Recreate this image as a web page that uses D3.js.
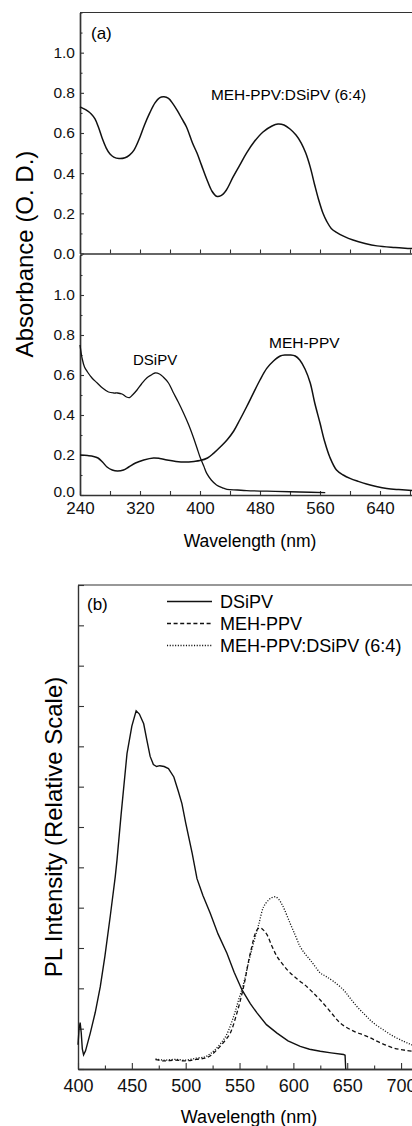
<!DOCTYPE html>
<html><head><meta charset="utf-8">
<script src="https://cdn.jsdelivr.net/npm/d3@7"></script>
<style>
html,body{margin:0;padding:0;background:#fff;}
svg{display:block;font-family:"Liberation Sans",Arial,sans-serif;}
</style></head>
<body>
<script>
// ---------- Data: panel (a) absorbance ----------
const absTicksX = [240,280,320,360,400,440,480,520,560,600,640,680,720];
const absLabelsX = [240,320,400,480,560,640];
const absTicksY = [0,0.1,0.2,0.3,0.4,0.5,0.6,0.7,0.8,0.9,1.0,1.1,1.2];
const absLabelsY = [0,0.2,0.4,0.6,0.8,1.0];

const blendAbsWl  = [240,248,255,260,265,270,275,280,285,292,300,306,312,320,326,333,340,346,352,358,364,370,376,382,390,396,402,409,416,422,428,435,444,453,462,472,484,496,504,512,520,528,535,541,547,553,558,564,569,575,582,592,604,620,636,660,680,700,720];
const blendAbsVal = [0.73,0.715,0.695,0.67,0.625,0.57,0.525,0.495,0.48,0.473,0.477,0.49,0.515,0.58,0.64,0.70,0.75,0.775,0.78,0.772,0.745,0.71,0.67,0.63,0.55,0.50,0.44,0.37,0.31,0.285,0.288,0.315,0.38,0.44,0.50,0.555,0.605,0.635,0.645,0.64,0.62,0.59,0.55,0.50,0.43,0.34,0.27,0.20,0.16,0.125,0.105,0.085,0.067,0.05,0.038,0.03,0.025,0.02,0.017];

const dsipvAbsWl  = [240,243,246,250,256,263,270,278,285,290,296,302,306,310,316,322,329,335,340,346,351,358,364,371,378,385,391,396,400,405,409,415,422,430,436,450,462,500,533,567];
const dsipvAbsVal = [0.75,0.68,0.64,0.615,0.585,0.56,0.535,0.515,0.51,0.51,0.505,0.49,0.487,0.50,0.525,0.555,0.585,0.60,0.61,0.605,0.59,0.56,0.515,0.465,0.41,0.35,0.29,0.235,0.19,0.145,0.108,0.075,0.05,0.036,0.028,0.025,0.022,0.018,0.015,0.012];

const mehAbsWl  = [240,250,258,264,270,276,283,290,298,305,314,325,338,346,356,368,380,392,400,410,418,427,436,445,453,462,471,480,489,498,507,514,520,527,533,540,547,553,560,566,573,582,591,600,611,622,635,649,665,683,700,720];
const mehAbsVal = [0.20,0.197,0.193,0.185,0.165,0.14,0.125,0.12,0.125,0.14,0.16,0.175,0.185,0.183,0.175,0.168,0.165,0.168,0.172,0.185,0.208,0.24,0.275,0.32,0.375,0.44,0.508,0.575,0.633,0.67,0.695,0.70,0.70,0.695,0.675,0.63,0.56,0.46,0.36,0.27,0.19,0.125,0.10,0.083,0.068,0.055,0.043,0.033,0.027,0.022,0.019,0.016];

// ---------- Data: panel (b) photoluminescence ----------
const plTicksX = [400,425,450,475,500,525,550,575,600,625,650,675,700];
const plLabelsX = [400,450,500,550,600,650,700];
const plTicksY = [0,1,2,3,4,5,6,7,8,9,10,11,12];

const dsipvPlWl  = [400,401,402,403,404,405.2,407,411.4,416,420.7,425,430,434.6,436.2,440,445.5,450,454,457,461,464,467,470,473,476,480,484,489,493,496.5,500,506,510.5,516,522.8,530,538.3,545,552.3,560,566.2,575,584.8,595,606.4,615,625,635,646.6,648,648.6];
const dsipvPlVal = [0.6,1.0,1.15,0.9,0.5,0.35,0.45,0.89,1.4,2.04,2.8,3.8,4.77,5.18,6.3,7.82,8.5,8.88,8.8,8.56,8.15,7.75,7.55,7.5,7.52,7.5,7.45,7.24,6.9,6.58,6.1,5.35,4.72,4.3,3.86,3.35,2.87,2.4,1.96,1.62,1.39,1.1,0.89,0.7,0.56,0.49,0.44,0.40,0.36,0.34,0.0];

const mehPlWl  = [472,480,490,500,510,518,523,528,532,537,541.4,547.6,553.8,560,566.2,569.3,572,575.5,580,584.8,590,597.1,605,612.6,618,625,635,643.5,655,668.3,680,693,705,720];
const mehPlVal = [0.23,0.2,0.22,0.2,0.24,0.27,0.33,0.45,0.56,0.72,0.89,1.39,2.04,2.87,3.45,3.5,3.45,3.33,3.05,2.79,2.6,2.38,2.2,2.04,1.9,1.71,1.4,1.14,0.95,0.81,0.66,0.52,0.46,0.42];

const blendPlWl  = [472,480,490,500,510,518,523,527,533,538,544.5,549,553.8,558,563,568,572.3,577,580,583.2,586,590,597,602,606.4,611,615.7,620,625,630,637.3,646.6,652,659,667,674.4,683,693,703,710.4,720];
const blendPlVal = [0.25,0.22,0.24,0.22,0.27,0.3,0.38,0.47,0.65,0.85,1.3,1.7,2.12,2.6,3.12,3.6,4.02,4.19,4.25,4.27,4.22,4.05,3.61,3.3,3.03,2.85,2.7,2.55,2.38,2.3,2.17,1.96,1.78,1.55,1.33,1.14,0.98,0.81,0.68,0.6,0.55];

const legendNames = ["DSiPV","MEH-PPV","MEH-PPV:DSiPV (6:4)"];
const legendDash = [null,"4,2.6","1.1,1.6"];

// ---------- Drawing ----------
const W = 412, H = 1126;
const svg = d3.select("body").append("svg").attr("width",W).attr("height",H);
svg.append("rect").attr("width",W).attr("height",H).attr("fill","#fff");

const ink = "#111", axisInk = "#333";
const zip = (a,b)=>a.map((x,i)=>[x,b[i]]);

const xA = d3.scaleLinear().domain([240,720]).range([80,440]);
const yTop = d3.scaleLinear().domain([0,1.2]).range([253.5,12.5]);
const yBot = d3.scaleLinear().domain([0,1.2]).range([495,255]);

function styleAxis(g, fs){
  g.select(".domain").attr("stroke",axisInk).attr("stroke-width",1.4);
  g.selectAll(".tick line").attr("stroke",axisInk).attr("stroke-width",1.1);
  g.selectAll("text").attr("font-size",fs).attr("fill","#111")
    .attr("font-family","'Liberation Sans',Arial,sans-serif");
}

svg.append("line").attr("x1",80).attr("x2",W).attr("y1",12.5).attr("y2",12.5)
  .attr("stroke",axisInk).attr("stroke-width",1.2);

[[yTop,absLabelsY,0],[yBot,absLabelsY,1]].forEach(([ys,labs,isBottom])=>{
  const gm = svg.append("g").attr("transform","translate(80,0)")
    .call(d3.axisLeft(ys).tickValues(absTicksY.filter(v=>!labs.some(l=>Math.abs(l-v)<1e-9))).tickSizeInner(-2.5).tickSizeOuter(0).tickFormat(""));
  styleAxis(gm,15);
  const g = svg.append("g").attr("transform","translate(80,0)")
    .call(d3.axisLeft(ys).tickValues(labs).tickSizeInner(-4).tickSizeOuter(0).tickPadding(5).tickFormat(d3.format(".1f")));
  styleAxis(g,15.5);
  if(isBottom){
    g.selectAll(".tick").filter(d=>d===0).select("text").attr("dy","0.1em");
  }
});

const gxMid = svg.append("g").attr("transform","translate(0,253.5)")
  .call(d3.axisBottom(xA).tickValues(absTicksX).tickSizeInner(-4).tickSizeOuter(0).tickFormat(""));
styleAxis(gxMid,16);
const gxBot = svg.append("g").attr("transform","translate(0,495)")
  .call(d3.axisBottom(xA).tickValues(absTicksX).tickSizeInner(-4).tickSizeOuter(0).tickPadding(7)
  .tickFormat(d=>absLabelsX.includes(d)?d:""));
styleAxis(gxBot,17);

const lineTop = d3.line().x(d=>xA(d[0])).y(d=>yTop(d[1])).curve(d3.curveCatmullRom.alpha(0.5));
const lineBot = d3.line().x(d=>xA(d[0])).y(d=>yBot(d[1])).curve(d3.curveCatmullRom.alpha(0.5));
svg.append("path").datum(zip(blendAbsWl,blendAbsVal)).attr("d",lineTop)
  .attr("fill","none").attr("stroke",ink).attr("stroke-width",1.5);
svg.append("path").datum(zip(dsipvAbsWl,dsipvAbsVal)).attr("d",lineBot)
  .attr("fill","none").attr("stroke",ink).attr("stroke-width",1.3);
svg.append("path").datum(zip(mehAbsWl,mehAbsVal)).attr("d",lineBot)
  .attr("fill","none").attr("stroke",ink).attr("stroke-width",1.5);

svg.append("text").attr("x",91).attr("y",39).attr("font-size",17).text("(a)");
svg.append("text").attr("x",211).attr("y",100).attr("font-size",15.4).text("MEH-PPV:DSiPV (6:4)");
svg.append("text").attr("x",133).attr("y",365).attr("font-size",15).text("DSiPV");
svg.append("text").attr("x",269).attr("y",348).attr("font-size",15.5).text("MEH-PPV");
svg.append("text").attr("transform","translate(33,254) rotate(-90)").attr("text-anchor","middle")
  .attr("font-size",24).text("Absorbance (O. D.)");
svg.append("text").attr("x",250).attr("y",547).attr("text-anchor","middle").attr("font-size",17.5).text("Wavelength (nm)");

const xB = d3.scaleLinear().domain([400,720]).range([78,422.6]);
const yB = d3.scaleLinear().domain([0,12]).range([1069,585]);

svg.append("line").attr("x1",78).attr("x2",W).attr("y1",585).attr("y2",585)
  .attr("stroke",axisInk).attr("stroke-width",1.2);

const gyB = svg.append("g").attr("transform","translate(78,0)")
  .call(d3.axisLeft(yB).tickValues(plTicksY).tickSizeInner(-6).tickSizeOuter(0).tickFormat(""));
styleAxis(gyB,16);
const gxBm = svg.append("g").attr("transform","translate(0,1069)")
  .call(d3.axisBottom(xB).tickValues(plTicksX.filter(v=>!plLabelsX.includes(v))).tickSizeInner(-3.5).tickSizeOuter(0).tickFormat(""));
styleAxis(gxBm,16);
const gxB = svg.append("g").attr("transform","translate(0,1069)")
  .call(d3.axisBottom(xB).tickValues(plLabelsX).tickSizeInner(-6).tickSizeOuter(0).tickPadding(10));
styleAxis(gxB,18);

const lineB = d3.line().x(d=>xB(d[0])).y(d=>yB(d[1])).curve(d3.curveLinear);
svg.append("path").datum(zip(dsipvPlWl,dsipvPlVal)).attr("d",lineB)
  .attr("fill","none").attr("stroke",ink).attr("stroke-width",1.4);
svg.append("path").datum(zip(mehPlWl,mehPlVal)).attr("d",lineB.curve(d3.curveCatmullRom))
  .attr("fill","none").attr("stroke",ink).attr("stroke-width",1.3).attr("stroke-dasharray",legendDash[1]);
svg.append("path").datum(zip(blendPlWl,blendPlVal)).attr("d",lineB.curve(d3.curveCatmullRom))
  .attr("fill","none").attr("stroke",ink).attr("stroke-width",1.3).attr("stroke-dasharray",legendDash[2]);

const legY = [601.5,623.5,645.5];
legendNames.forEach((n,i)=>{
  svg.append("line").attr("x1",167).attr("x2",212).attr("y1",legY[i]).attr("y2",legY[i])
    .attr("stroke",ink).attr("stroke-width",1.3).attr("stroke-dasharray",legendDash[i]);
  svg.append("text").attr("x",220).attr("y",legY[i]+6.5).attr("font-size",18).text(n);
});

svg.append("text").attr("x",87).attr("y",610).attr("font-size",17).text("(b)");
svg.append("text").attr("transform","translate(62,827) rotate(-90)").attr("text-anchor","middle")
  .attr("font-size",24).text("PL Intensity (Relative Scale)");
svg.append("text").attr("x",249).attr("y",1123).attr("text-anchor","middle").attr("font-size",18).text("Wavelength (nm)");
</script>
</body></html>
